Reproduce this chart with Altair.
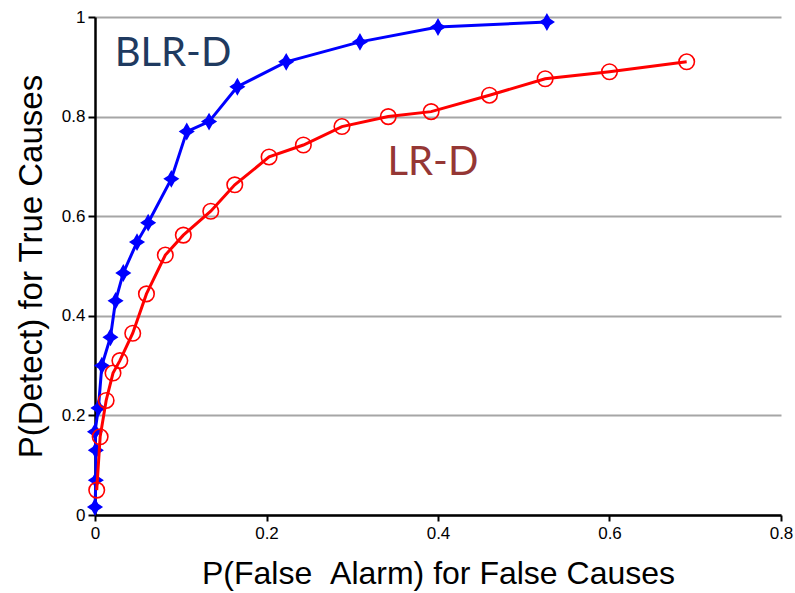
import altair as alt
import pandas as pd

blr_x = [0.0, 0.001, 0.001, 0.0, 0.004, 0.008, 0.018, 0.024, 0.033, 0.049, 0.062, 0.089, 0.107, 0.133, 0.166, 0.223, 0.309, 0.400, 0.527]
blr_y = [0.016, 0.07, 0.13, 0.167, 0.215, 0.30, 0.357, 0.43, 0.486, 0.548, 0.587, 0.675, 0.77, 0.79, 0.86, 0.91, 0.95, 0.98, 0.99]

lr_x = [0.002, 0.006, 0.013, 0.021, 0.029, 0.044, 0.060, 0.082, 0.103, 0.135, 0.163, 0.203, 0.243, 0.288, 0.342, 0.392, 0.460, 0.525, 0.600, 0.690]
lr_y = [0.05, 0.157, 0.23, 0.285, 0.31, 0.365, 0.444, 0.522, 0.562, 0.61, 0.663, 0.719, 0.743, 0.78, 0.80, 0.81, 0.843, 0.876, 0.89, 0.91]

label_text = ["BLR-D", "LR-D"]
label_x = [0.091, 0.394]
label_y = [0.926, 0.707]

x_ticks = [0, 0.2, 0.4, 0.6, 0.8]
y_ticks = [0, 0.2, 0.4, 0.6, 0.8, 1.0]

blr = pd.DataFrame({"x": blr_x, "y": blr_y, "order": list(range(len(blr_x)))})
lr = pd.DataFrame({"x": lr_x, "y": lr_y, "order": list(range(len(lr_x)))})
labels = pd.DataFrame({"text": label_text, "x": label_x, "y": label_y})

xscale = alt.Scale(domain=[0, 0.8], nice=False)
yscale = alt.Scale(domain=[0, 1], nice=False)

xaxis = alt.Axis(
    values=x_ticks, title="P(False \u00a0Alarm) for False Causes", grid=False,
    labelFont="Liberation Sans", labelFontSize=17, labelColor="black",
    titleFont="Liberation Sans", titleFontSize=32, titleFontWeight="normal",
    titleColor="black", titlePadding=17,
    domainColor="black", domainWidth=2.5, tickColor="black", tickWidth=2,
    tickSize=6, labelPadding=4, labelFlush=False,
    format="~g",
)
yaxis = alt.Axis(
    values=y_ticks, title="P(Detect) for True Causes", grid=True,
    gridColor="#A6A6A6", gridWidth=2,
    labelFont="Liberation Sans", labelFontSize=17, labelColor="black",
    titleFont="Liberation Sans", titleFontSize=33, titleFontWeight="normal",
    titleColor="black", titlePadding=13,
    domainColor="black", domainWidth=2.5, tickColor="black", tickWidth=2,
    tickSize=7, labelPadding=3, labelFlush=False,
    format="~g",
)

star = "M0,-1 L0.36,-0.36 L0.9,0 L0.36,0.36 L0,1 L-0.36,0.36 L-0.9,0 L-0.36,-0.36 Z"

base_x = alt.X("x:Q", scale=xscale, axis=xaxis)
base_y = alt.Y("y:Q", scale=yscale, axis=yaxis)

blr_line = alt.Chart(blr).mark_line(color="#0000FF", strokeWidth=3, clip=False).encode(
    x=base_x, y=base_y, order="order:Q")
blr_pts = alt.Chart(blr).mark_point(shape=star, filled=True, color="#0000FF", size=320, opacity=1, clip=False).encode(
    x="x:Q", y="y:Q")
lr_line = alt.Chart(lr).mark_line(color="#FF0000", strokeWidth=3, clip=False).encode(
    x="x:Q", y="y:Q", order="order:Q")
lr_pts = alt.Chart(lr).mark_point(shape="circle", filled=False, color="#FF0000", size=240, strokeWidth=1.6, opacity=1, clip=False).encode(
    x="x:Q", y="y:Q")

txt = alt.Chart(labels).mark_text(font="Lato", fontSize=40, align="center", baseline="middle").encode(
    x="x:Q", y="y:Q", text="text:N",
    color=alt.Color("text:N", scale=alt.Scale(domain=["BLR-D", "LR-D"], range=["#1F3A60", "#953735"]), legend=None),
)

chart = alt.layer(blr_line, blr_pts, lr_line, lr_pts, txt).properties(
    width=686, height=498,
    autosize=alt.AutoSizeParams(type="none"),
    padding={"left": 95, "top": 17, "right": 14, "bottom": 78},
    background="white",
).configure_view(stroke=None).configure_axis(labelOverlap=False)

chart.save("out.html", embed_options={"renderer": "svg", "actions": False})
